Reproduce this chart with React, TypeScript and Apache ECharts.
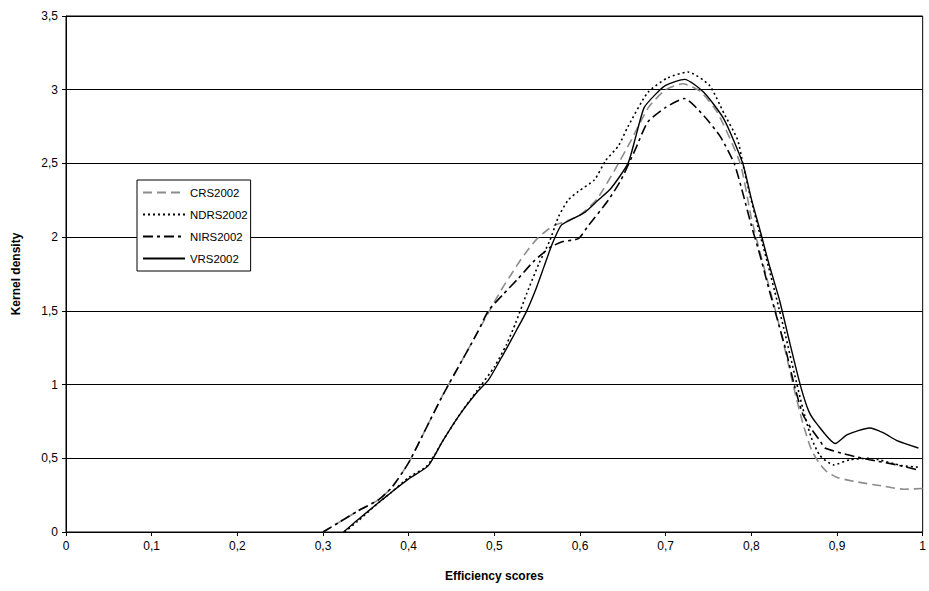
import React, { useEffect, useRef } from "react";
import * as echarts from "echarts";

// ---- data ----
const seriesNames = ["CRS2002", "NDRS2002", "NIRS2002", "VRS2002"];

const crsX = [0.30, 0.32, 0.34, 0.365, 0.38, 0.40, 0.42, 0.44, 0.46, 0.48, 0.50, 0.51, 0.52, 0.53, 0.54, 0.55, 0.56, 0.57, 0.58, 0.60, 0.62, 0.64, 0.66, 0.68, 0.70, 0.72, 0.74, 0.76, 0.787, 0.80, 0.81, 0.82, 0.83, 0.84, 0.85, 0.86, 0.87, 0.88, 0.888, 0.90, 0.923, 0.955, 0.978, 1.0];
const crsY = [0, 0.07, 0.14, 0.22, 0.3, 0.47, 0.7, 0.93, 1.14, 1.35, 1.56, 1.66, 1.75, 1.84, 1.92, 1.99, 2.04, 2.08, 2.1, 2.15, 2.26, 2.45, 2.66, 2.88, 3.0, 3.04, 2.99, 2.85, 2.5, 2.13, 1.9, 1.68, 1.46, 1.22, 0.97, 0.74, 0.56, 0.46, 0.41, 0.37, 0.34, 0.31, 0.29, 0.295];

const ndrsX = [0.325, 0.34, 0.365, 0.38, 0.40, 0.42, 0.43, 0.44, 0.46, 0.48, 0.50, 0.514, 0.525, 0.538, 0.552, 0.565, 0.575, 0.586, 0.598, 0.617, 0.63, 0.645, 0.656, 0.679, 0.702, 0.726, 0.751, 0.768, 0.784, 0.79, 0.799, 0.81, 0.82, 0.83, 0.84, 0.85, 0.86, 0.87, 0.88, 0.896, 0.915, 0.938, 0.976, 0.995];
const ndrsY = [0, 0.07, 0.2, 0.27, 0.37, 0.44, 0.52, 0.62, 0.8, 0.96, 1.12, 1.27, 1.42, 1.62, 1.82, 1.98, 2.14, 2.25, 2.31, 2.39, 2.52, 2.62, 2.75, 2.98, 3.08, 3.12, 3.03, 2.84, 2.66, 2.5, 2.27, 2.02, 1.8, 1.57, 1.33, 1.08, 0.84, 0.64, 0.52, 0.455, 0.49, 0.5, 0.45, 0.44];

const nirsX = [0.30, 0.32, 0.34, 0.365, 0.38, 0.40, 0.42, 0.44, 0.46, 0.48, 0.493, 0.51, 0.528, 0.545, 0.565, 0.58, 0.598, 0.61, 0.633, 0.648, 0.665, 0.679, 0.70, 0.722, 0.745, 0.764, 0.78, 0.79, 0.80, 0.81, 0.82, 0.83, 0.84, 0.85, 0.86, 0.87, 0.88, 0.886, 0.915, 0.938, 0.97, 0.995];
const nirsY = [0, 0.07, 0.14, 0.22, 0.3, 0.47, 0.7, 0.93, 1.14, 1.35, 1.5, 1.61, 1.72, 1.83, 1.93, 1.97, 1.99, 2.08, 2.25, 2.39, 2.6, 2.78, 2.88, 2.94, 2.82, 2.68, 2.5, 2.3, 2.08, 1.88, 1.66, 1.45, 1.24, 1.0, 0.8, 0.7, 0.62, 0.57, 0.52, 0.49, 0.455, 0.42];

const vrsX = [0.324, 0.34, 0.365, 0.38, 0.40, 0.423, 0.44, 0.46, 0.48, 0.493, 0.51, 0.526, 0.537, 0.548, 0.558, 0.568, 0.578, 0.59, 0.606, 0.621, 0.636, 0.656, 0.665, 0.675, 0.69, 0.70, 0.722, 0.745, 0.768, 0.79, 0.80, 0.81, 0.82, 0.833, 0.845, 0.857, 0.867, 0.877, 0.898, 0.912, 0.938, 0.955, 0.97, 0.995];
const vrsY = [0, 0.08, 0.2, 0.27, 0.36, 0.45, 0.62, 0.8, 0.95, 1.03, 1.2, 1.37, 1.49, 1.64, 1.8, 1.96, 2.08, 2.12, 2.17, 2.25, 2.33, 2.5, 2.68, 2.88, 2.98, 3.03, 3.07, 2.98, 2.8, 2.5, 2.26, 2.05, 1.83, 1.57, 1.28, 1.0, 0.82, 0.73, 0.6, 0.66, 0.705, 0.67, 0.62, 0.57];

const xTickLabels = ["0", "0,1", "0,2", "0,3", "0,4", "0,5", "0,6", "0,7", "0,8", "0,9", "1"];
const yTickLabels = ["0", "0,5", "1", "1,5", "2", "2,5", "3", "3,5"];

const xAxisTitle = "Efficiency scores";
const yAxisTitle = "Kernel density";

const FONT = "'Liberation Sans', Arial, sans-serif";

function pairs(xs: number[], ys: number[]) {
  return xs.map((x, i) => [x, ys[i]]);
}

export default function App() {
  const ref = useRef<HTMLDivElement>(null);

  useEffect(() => {
    if (!ref.current) return;
    const chart = echarts.init(ref.current, null, { renderer: "svg" });
    const lineBase = { type: "line", symbol: "none", showSymbol: false, smooth: 0.2 };
    chart.setOption({
      animation: false,
      backgroundColor: "#fff",
      grid: {
        left: 66,
        right: 4,
        top: 16,
        bottom: 59,
        show: true,
        borderColor: "#000",
        borderWidth: 1,
        backgroundColor: "transparent",
      },
      legend: {
        orient: "vertical",
        left: 137,
        top: 180,
        padding: [7, 3, 7, 5],
        itemWidth: 42,
        itemHeight: 12,
        itemGap: 11,
        borderColor: "#000",
        borderWidth: 1,
        backgroundColor: "#fff",
        itemStyle: { opacity: 0 },
        textStyle: { fontSize: 11.4, fontFamily: FONT, color: "#000" },
        data: seriesNames,
      },
      xAxis: {
        type: "value",
        min: 0,
        max: 1,
        interval: 0.1,
        name: xAxisTitle,
        nameLocation: "middle",
        nameGap: 38,
        nameTextStyle: { fontSize: 12, fontWeight: "bold", fontFamily: FONT, color: "#000" },
        axisLine: { show: true, lineStyle: { color: "#000", width: 1 } },
        axisTick: { show: true, length: 4, lineStyle: { color: "#000" } },
        axisLabel: {
          fontSize: 12,
          fontFamily: FONT,
          color: "#000",
          margin: 8,
          formatter: (v: number) => xTickLabels[Math.round(v * 10)] ?? "",
        },
        splitLine: { show: false },
      },
      yAxis: {
        type: "value",
        min: 0,
        max: 3.5,
        interval: 0.5,
        name: yAxisTitle,
        nameLocation: "middle",
        nameGap: 44,
        nameTextStyle: { fontSize: 12, fontWeight: "bold", fontFamily: FONT, color: "#000" },
        axisLine: { show: true, lineStyle: { color: "#000", width: 1 } },
        axisTick: { show: true, length: 4, lineStyle: { color: "#000" } },
        axisLabel: {
          fontSize: 12,
          fontFamily: FONT,
          color: "#000",
          margin: 8,
          formatter: (v: number) => yTickLabels[Math.round(v * 2)] ?? "",
        },
        splitLine: { show: true, lineStyle: { color: "#000", width: 1 } },
      },
      series: [
        {
          ...lineBase,
          name: seriesNames[0],
          data: pairs(crsX, crsY),
          z: 3,
          lineStyle: { color: "#8c8c8c", width: 1.6, type: [9, 5] },
          itemStyle: { color: "#8c8c8c" },
        },
        {
          ...lineBase,
          name: seriesNames[1],
          data: pairs(ndrsX, ndrsY),
          z: 4,
          lineStyle: { color: "#000", width: 1.6, type: [2, 3] },
          itemStyle: { color: "#000" },
        },
        {
          ...lineBase,
          name: seriesNames[2],
          data: pairs(nirsX, nirsY),
          z: 5,
          lineStyle: { color: "#000", width: 1.6, type: [10, 4, 3, 4] },
          itemStyle: { color: "#000" },
        },
        {
          ...lineBase,
          name: seriesNames[3],
          data: pairs(vrsX, vrsY),
          z: 6,
          lineStyle: { color: "#000", width: 1.4, type: "solid" },
          itemStyle: { color: "#000" },
        },
      ],
    });
    return () => chart.dispose();
  }, []);

  return (
    <div
      ref={ref}
      style={{ position: "absolute", left: 0, top: 0, width: 929, height: 591 }}
    />
  );
}
